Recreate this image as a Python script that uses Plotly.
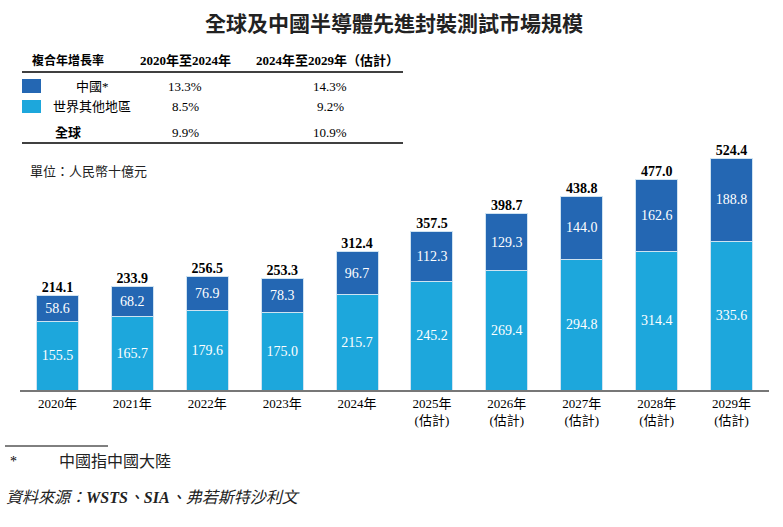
import plotly.graph_objects as go

W, H = 783, 527

years = ["2020", "2021", "2022", "2023", "2024", "2025", "2026", "2027", "2028", "2029"]
tick_labels = ["2020年", "2021年", "2022年", "2023年", "2024年",
               "2025年<br>(估計)", "2026年<br>(估計)", "2027年<br>(估計)",
               "2028年<br>(估計)", "2029年<br>(估計)"]
china = [58.6, 68.2, 76.9, 78.3, 96.7, 112.3, 129.3, 144.0, 162.6, 188.8]
rest_of_world = [155.5, 165.7, 179.6, 175.0, 215.7, 245.2, 269.4, 294.8, 314.4, 335.6]
totals = [214.1, 233.9, 256.5, 253.3, 312.4, 357.5, 398.7, 438.8, 477.0, 524.4]

cagr_header = ["複合年增長率", "2020年至2024年", "2024年至2029年（估計）"]
cagr_rows = ["中國*", "世界其他地區", "全球"]
cagr_2020_2024 = ["13.3%", "8.5%", "9.9%"]
cagr_2024_2029 = ["14.3%", "9.2%", "10.9%"]

DARK = "#2467b3"
CYAN = "#1da7dc"
EDGE = "#cfe3f1"
SERIF = "Liberation Serif, Noto Sans CJK TC, serif"
SANS = "Noto Sans CJK TC, sans-serif"


def px(x):
    return x / W


def py(y):
    return 1 - y / H


fig = go.Figure()

fig.add_trace(go.Bar(
    x=years, y=rest_of_world, name="世界其他地區",
    marker=dict(color=CYAN, line=dict(color=EDGE, width=1)),
    text=[f"{v:.1f}" for v in rest_of_world], textposition="inside",
    insidetextanchor="middle", textangle=0,
    textfont=dict(family=SERIF, size=14, color="white"),
    width=0.56, hoverinfo="skip"))

fig.add_trace(go.Bar(
    x=years, y=china, name="中國",
    marker=dict(color=DARK, line=dict(color=EDGE, width=1)),
    text=[f"{v:.1f}" for v in china], textposition="inside",
    insidetextanchor="middle", textangle=0,
    textfont=dict(family=SERIF, size=14, color="white"),
    width=0.56, hoverinfo="skip"))

fig.add_trace(go.Scatter(
    x=years, y=totals, mode="text",
    text=[f"<b>{v:.1f}</b>" for v in totals], textposition="top center",
    textfont=dict(family=SERIF, size=14, color="black"),
    hoverinfo="skip"))

# plot area: baseline at y=390px, 0.442 px per unit
fig.update_layout(
    width=W, height=H, barmode="stack", showlegend=False,
    margin=dict(l=0, r=0, t=0, b=0),
    paper_bgcolor="white", plot_bgcolor="white",
    xaxis=dict(domain=[px(20), px(769)], range=[-0.5, 9.5],
               tickmode="array", tickvals=years, ticktext=tick_labels,
               tickfont=dict(family=SERIF, size=13, color="black"),
               showline=True, linecolor="#777777", linewidth=2,
               ticks="", showgrid=False, zeroline=False, fixedrange=True),
    yaxis=dict(domain=[py(390), py(140)], range=[0, 250 / 0.442],
               visible=False, showgrid=False, zeroline=False),
)

ann = []


def text(x, y, s, size=13, family=SERIF, xanchor="center", color="black", **kw):
    ann.append(dict(x=px(x), y=py(y), xref="paper", yref="paper", text=s,
                    showarrow=False, xanchor=xanchor, yanchor="middle",
                    font=dict(family=family, size=size, color=color), **kw))


# title
text(394, 22, "<b>全球及中國半導體先進封裝測試市場規模</b>", size=21, family=SANS, color="#222222")

# CAGR table
text(68, 61, f"<b>{cagr_header[0]}</b>", size=12)
text(185, 61, f"<b>{cagr_header[1]}</b>", size=13)
text(327, 61, f"<b>{cagr_header[2]}</b>", size=13)

row_y = [86, 106, 132]
row_x = [92, 92, 68]
for i, name in enumerate(cagr_rows):
    label = f"<b>{name}</b>" if name == "全球" else name
    text(row_x[i], row_y[i], label, size=13)
    text(185, row_y[i], cagr_2020_2024[i], size=13)
    text(330, row_y[i], cagr_2024_2029[i], size=13)

shapes = [
    dict(type="line", xref="paper", yref="paper", x0=px(22), x1=px(403),
         y0=py(72), y1=py(72), line=dict(color="black", width=1.5)),
    dict(type="line", xref="paper", yref="paper", x0=px(22), x1=px(403),
         y0=py(143), y1=py(143), line=dict(color="black", width=1.5)),
    dict(type="rect", xref="paper", yref="paper", x0=px(22), x1=px(41),
         y0=py(93), y1=py(79), fillcolor=DARK, line=dict(width=0)),
    dict(type="rect", xref="paper", yref="paper", x0=px(22), x1=px(41),
         y0=py(113), y1=py(100), fillcolor=CYAN, line=dict(width=0)),
    dict(type="line", xref="paper", yref="paper", x0=px(5), x1=px(108),
         y0=py(446), y1=py(446), line=dict(color="black", width=1)),
]

# unit
text(28, 171, "單位：人民幣十億元", size=13, xanchor="left", color="#222222")

# footnotes
text(8, 461, "*", size=14, xanchor="left")
text(57, 461, "中國指中國大陸", size=16, xanchor="left", color="#222222")
text(4, 497, "<i>資料來源：<b>WSTS</b>、<b>SIA</b>、弗若斯特沙利文</i>", size=16,
     xanchor="left", color="#222222")

fig.update_layout(annotations=ann, shapes=shapes)

# page body has a default 8px margin, drop it so the figure fills the window
fig.write_html("out.html", config={"displayModeBar": False},
               post_script="document.body.style.margin='0';")
